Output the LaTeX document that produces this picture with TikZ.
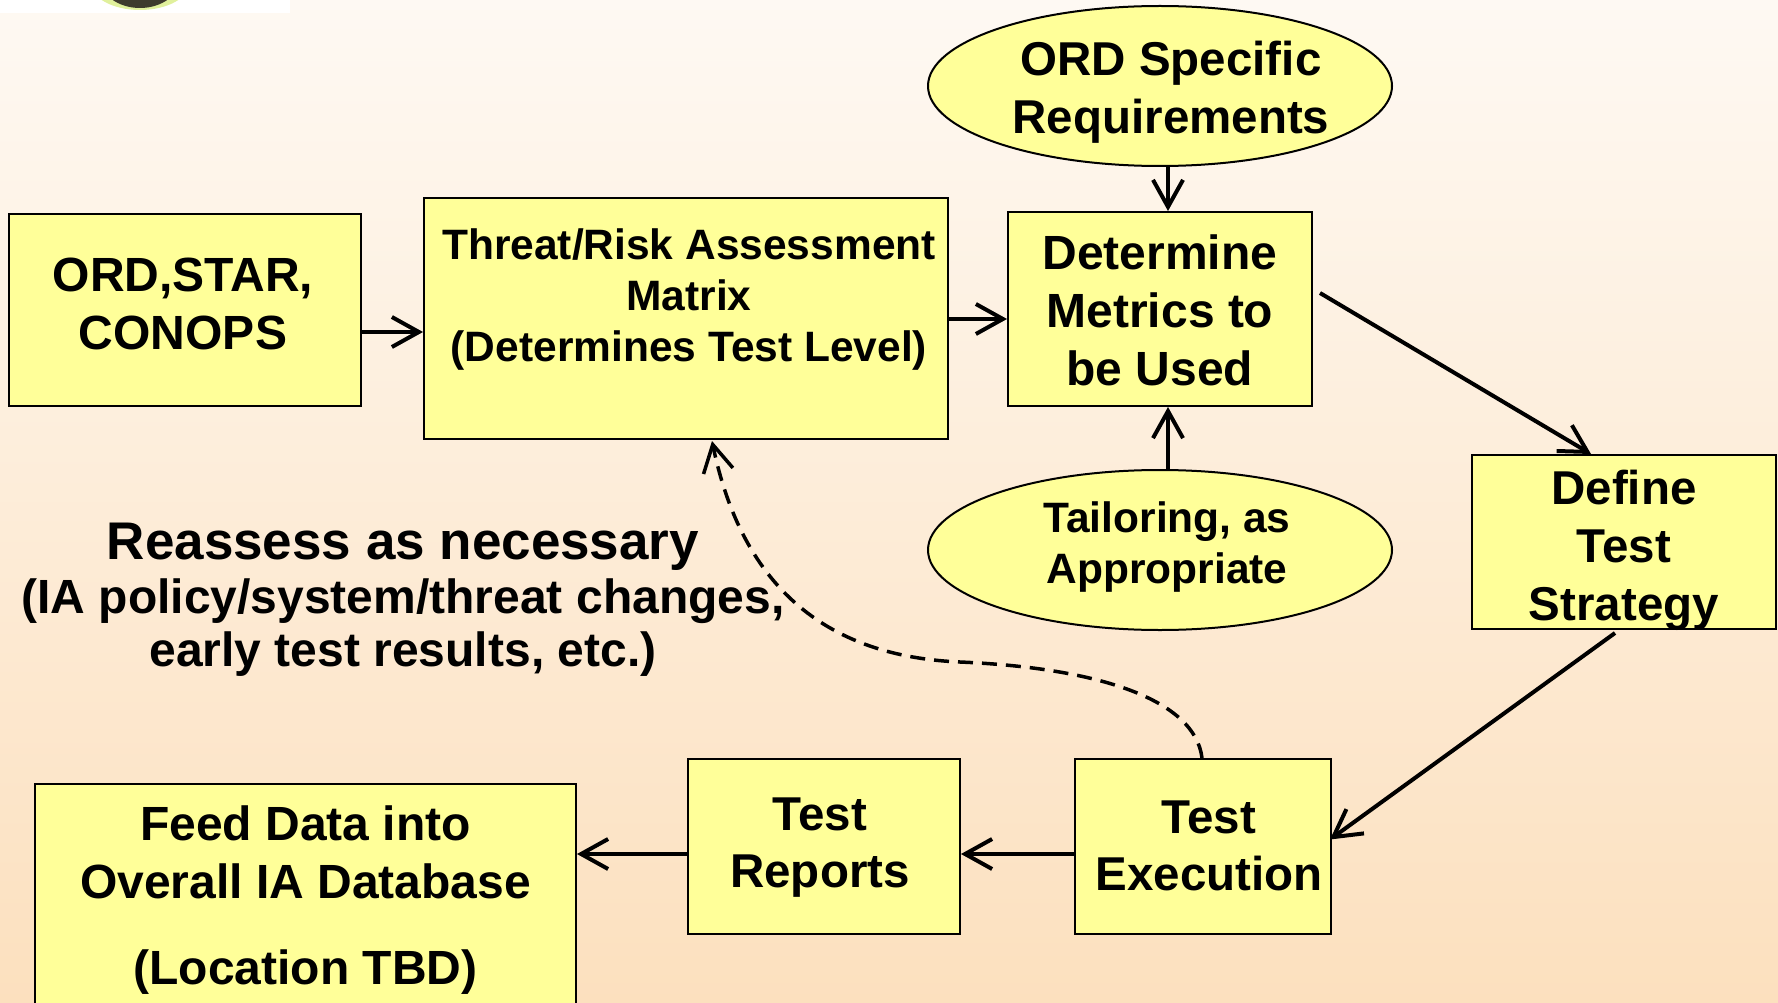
\documentclass[tikz,border=0pt]{standalone}
\usepackage{fontspec}
\setmainfont{Liberation Sans}
\usetikzlibrary{arrows.meta,shapes.geometric,calc}
\definecolor{boxfill}{RGB}{255,255,153}
\definecolor{bgtop}{RGB}{254,249,243}
\definecolor{bgbot}{RGB}{252,224,190}
\tikzset{
  box/.style={draw=black, line width=2pt, fill=boxfill, inner sep=0pt},
  oval/.style={ellipse, draw=black, line width=2pt, fill=boxfill, inner sep=0pt, minimum width=464pt, minimum height=160pt},
  txt/.style={align=center, inner sep=0pt, font=\bfseries\fontsize{48}{58}\selectfont},
  arr/.style={line width=4pt, -{Straight Barb[length=27pt,width=30pt,line width=4pt]}},
  dasharr/.style={line width=3.5pt, dash pattern=on 15pt off 9pt, -{Straight Barb[length=27pt,width=30pt,line width=3.5pt]}}
}
\begin{document}
\begin{tikzpicture}[x=1pt,y=-1pt]
\useasboundingbox (0,0) rectangle (1778,1003);
\shade[top color=bgtop, bottom color=bgbot] (0,0) rectangle (1778,1003);
% logo fragment
\begin{scope}
\clip (0,0) rectangle (290,13);
\fill[white] (0,0) rectangle (290,13);
\fill[yellow!70!green!40] (140,-18) ellipse (50 and 28);
\fill[black!75!olive] (140,-22) ellipse (40 and 30);
\end{scope}
% boxes
\node[box, minimum width=352pt, minimum height=192pt] (ord) at (185,310) {};
\node[box, minimum width=524pt, minimum height=241pt] (thr) at (686,318.5) {};
\node[box, minimum width=304pt, minimum height=194pt] (det) at (1160,309) {};
\node[box, minimum width=304pt, minimum height=174pt] (def) at (1624,542) {};
\node[box, minimum width=256pt, minimum height=175pt] (exe) at (1203,846.5) {};
\node[box, minimum width=272pt, minimum height=175pt] (rep) at (824,846.5) {};
\node[box, minimum width=541pt, minimum height=224pt] (feed) at (305.5,896) {};
\node[oval] (ors) at (1160,86) {};
\node[oval] (tai) at (1160,550) {};
% texts
\node[txt] (ordT) at (183,304) {ORD,STAR,\\CONOPS};
\node[txt, font=\bfseries\fontsize{42.5}{51}\selectfont] (thrT) at (689,300) {Threat/Risk Assessment\\Matrix\\(Determines Test Level)};
\node[txt] (detT) at (1160,310) {Determine\\Metrics to\\be Used};
\node[txt, font=\bfseries\fontsize{47.5}{58}\selectfont] (defT) at (1624,550) {Define\\Test\\Strategy};
\node[txt, font=\bfseries\fontsize{47.5}{57}\selectfont] (exeT) at (1209,846) {Test\\Execution};
\node[txt, font=\bfseries\fontsize{47.5}{57}\selectfont] (repT) at (820,848) {Test\\Reports};
\node[txt] (feedT) at (305.5,900) {Feed Data into\\Overall IA Database\\[28pt](Location TBD)};
\node[txt, font=\bfseries\fontsize{47.5}{58}\selectfont] (orsT) at (1171,92) {ORD Specific\\Requirements};
\node[txt, font=\bfseries\fontsize{42.5}{51}\selectfont] (taiT) at (1167,547) {Tailoring, as\\Appropriate};
\node[txt, font=\bfseries\fontsize{53}{60}\selectfont] (re) at (403,547) {Reassess as necessary};
\node[txt, font=\bfseries\fontsize{48}{53}\selectfont] (reS) at (403,628) {(IA policy/system/threat changes,\\early test results, etc.)};
% connectors
\draw[arr] (ord.east |- 0,332) -- (thr.west |- 0,332);
\draw[arr] (thr.east |- 0,319) -- (det.west |- 0,319);
\draw[arr] ([xshift=8pt]ors.south) -- ([xshift=8pt]det.north);
\draw[arr] ([xshift=8pt]tai.north) -- ([xshift=8pt]det.south);
\draw[arr] ($(det.east)+(7,-16)$) -- ($(def.north)+(-33,0)$);
\draw[arr] ($(def.south)+(-9,3)$) -- ($(exe.east)+(-2,-7)$);
\draw[arr] (exe.west |- 0,854) -- (rep.east |- 0,854);
\draw[arr] (rep.west |- 0,854) -- (feed.east |- 0,854);
\draw[dasharr] ($(exe.north)+(-1,0)$) .. controls (1195,700) and (1100,668) .. (960,662) .. controls (840,657) and (745,600) .. ($(thr.south)+(26,1)$);
\end{tikzpicture}
\end{document}
